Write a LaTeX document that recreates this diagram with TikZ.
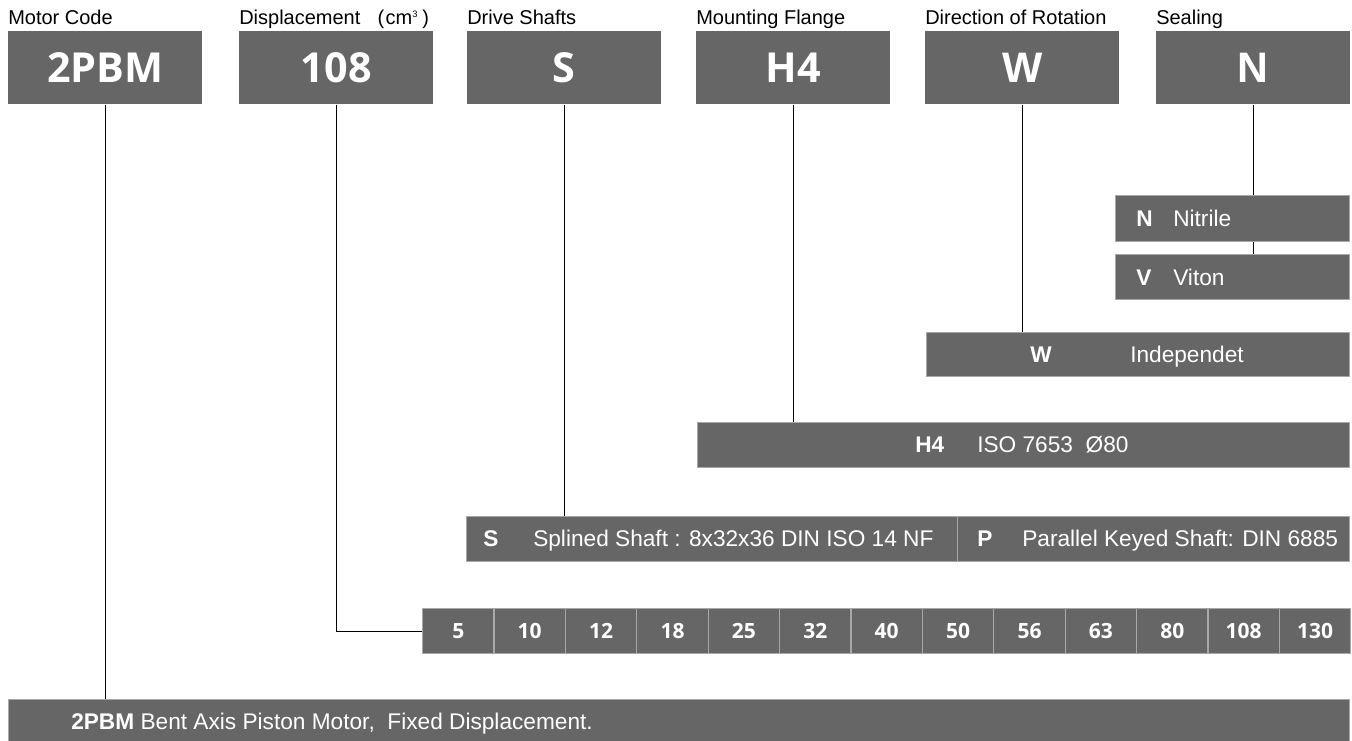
\documentclass[tikz,border=0pt]{standalone}
\usepackage{fontspec}
\setmainfont{Liberation Sans}
\newfontfamily\opensans{Open Sans}
\usetikzlibrary{positioning}
\definecolor{boxgray}{HTML}{666666}
\definecolor{edgegray}{HTML}{A8A8A8}
\newcommand{\pxl}[1]{#1*0.75pt}

\tikzset{
  headbox/.style={fill=boxgray, text=white, inner sep=0pt, anchor=north west,
    minimum width=\pxl{194}, minimum height=\pxl{73}},
  optbox/.style={fill=boxgray, draw=edgegray, line width=0.9pt, inner sep=0pt, anchor=north west},
  numcell/.style={optbox, text=white, minimum width=\pxl{71.4}, minimum height=\pxl{45},
    font=\fontsize{15.75}{18}\opensans\bfseries},
  caption/.style={anchor=base west, inner sep=0pt, font=\fontsize{15}{18}\selectfont},
  opttext/.style={anchor=base west, inner sep=0pt, text=white, font=\fontsize{17}{20}\selectfont},
  optkey/.style={opttext, font=\fontsize{17}{20}\selectfont\bfseries},
  link/.style={black, line width=0.75pt}
}

\begin{document}
\begin{tikzpicture}[x=0.75pt, y=-0.75pt]
  \useasboundingbox (0,0) rectangle (1352,740);

  % header boxes with their captions
  \foreach \name/\xx/\txt/\cap in {
      motor/8/{\fontsize{31}{36}\opensans\bfseries 2PBM}/{Motor Code},
      disp/239/{\fontsize{31}{36}\opensans\bfseries 108}/{Displacement\hspace{13pt}(\hspace{1pt}cm\textsuperscript{\fontsize{7}{7}\selectfont 3}\hspace{3pt})},
      shaft/467/{\fontsize{31}{36}\opensans\bfseries S}/{Drive Shafts},
      flange/696/{\fontsize{31}{36}\opensans\bfseries H4}/{Mounting Flange},
      rotation/925/{\fontsize{32}{36}\selectfont\bfseries W}/{Direction of Rotation},
      sealing/1156/{\fontsize{32}{36}\selectfont\bfseries N}/{Sealing}} {
    \node[headbox] (\name) at (\xx,31) {\txt};
    \node[caption] (\name-cap) at (\xx,24) {\cap};
  }

  % sealing options
  \node[optbox, minimum width=\pxl{234}, minimum height=\pxl{46}] (nitrile) at (1115,195) {};
  \node[optkey] (nitrile-key) at (1136,226.5) {N};
  \node[opttext] (nitrile-txt) at (1173,226.5) {Nitrile};
  \node[optbox, minimum width=\pxl{234}, minimum height=\pxl{45}] (viton) at (1115,254) {};
  \node[optkey] (viton-key) at (1136,285) {V};
  \node[opttext] (viton-txt) at (1173,285) {Viton};

  % rotation
  \node[optbox, minimum width=\pxl{423}, minimum height=\pxl{44}] (indep) at (926,332) {};
  \node[optkey] (indep-key) at (1030,362.5) {W};
  \node[opttext] (indep-txt) at (1130,362.5) {Independet};

  % flange
  \node[optbox, minimum width=\pxl{652}, minimum height=\pxl{45}] (iso) at (697,422) {};
  \node[optkey] (iso-key) at (915,452.5) {H4};
  \node[opttext] (iso-txt) at (977,452.5) {ISO 7653\ \ Ø80};

  % shafts
  \node[optbox, minimum width=\pxl{491}, minimum height=\pxl{45}] (splined) at (466,516) {};
  \node[optkey] (splined-key) at (483,546.5) {S};
  \node[opttext] (splined-txt) at (533,546.5) {Splined Shaft : 8x32x36 DIN ISO 14 NF};
  \node[optbox, minimum width=\pxl{392}, minimum height=\pxl{45}] (keyed) at (957,516) {};
  \node[optkey] (keyed-key) at (977,546.5) {P};
  \node[opttext] (keyed-txt) at (1022,546.5) {Parallel Keyed Shaft: DIN 6885};

  % displacements
  \foreach \v [count=\i] in {5,10,12,18,25,32,40,50,56,63,80,108,130} {
    \node[numcell] (cell\i) at ({422+71.4*(\i-1)},608) {\v};
  }

  % description
  \node[optbox, minimum width=\pxl{1341}, minimum height=\pxl{48}] (descr) at (8,699) {};
  \node[opttext] (descr-txt) at (71,729) {\textbf{2PBM} Bent Axis Piston Motor,\ \ Fixed Displacement.};

  % connectors
  \draw[link] (motor.south) -- (motor.south |- descr.north);
  \draw[link] (disp.south) |- (cell1.west);
  \draw[link] (shaft.south) -- (shaft.south |- splined.north);
  \draw[link] (flange.south) -- (flange.south |- iso.north);
  \draw[link] (rotation.south) -- (rotation.south |- indep.north);
  \draw[link] (sealing.south) -- (sealing.south |- nitrile.north);
  \draw[link] (sealing.south |- nitrile.south) -- (sealing.south |- viton.north);
\end{tikzpicture}
\end{document}
